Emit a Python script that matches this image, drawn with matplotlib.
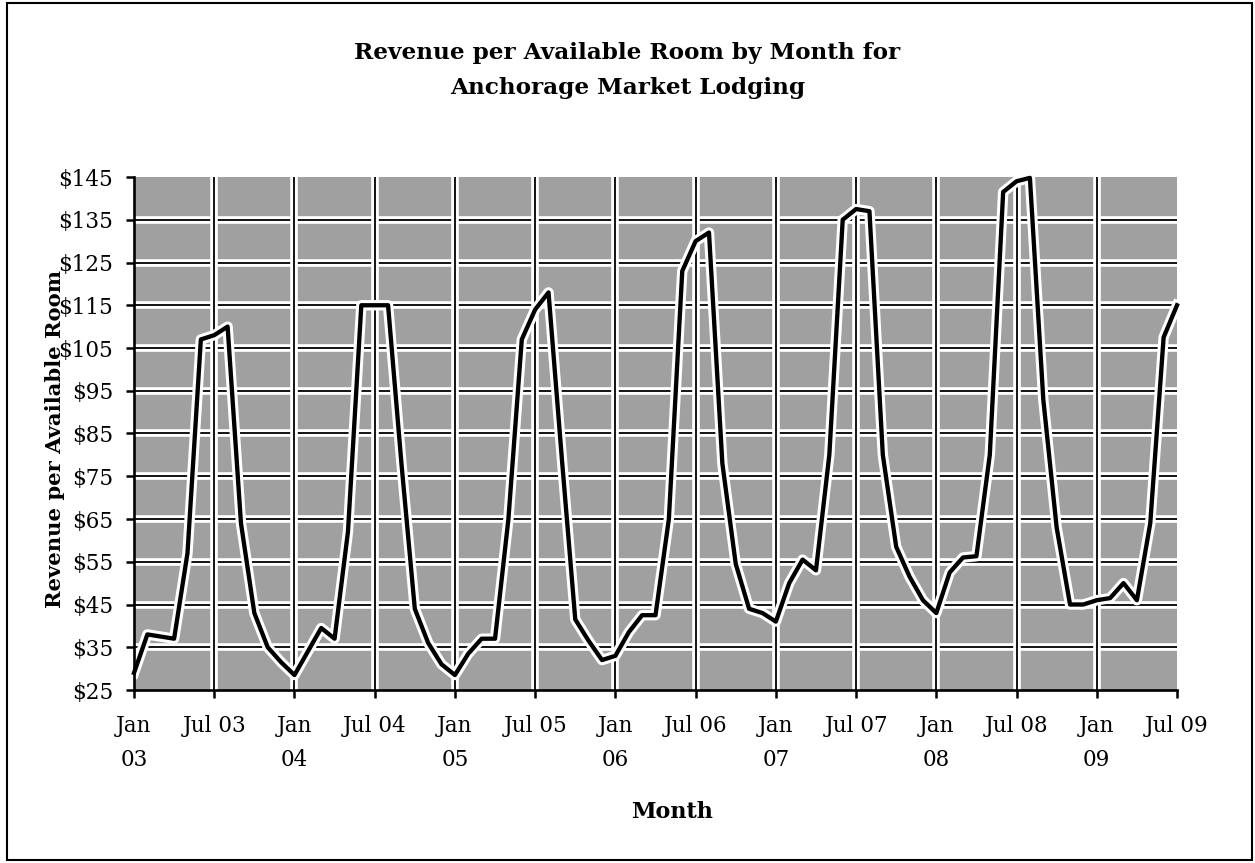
import matplotlib
matplotlib.use("Agg")
import matplotlib.pyplot as plt
import matplotlib.patheffects as pe
from matplotlib.patches import Rectangle

# -------------------------
# Monthly RevPAR, Anchorage market, Jan 2003 - Jul 2009
# -------------------------
revpar = [
    29, 38, 37.5, 37, 57, 107, 108, 110, 64, 43, 35, 31.5,        # 2003
    28.5, 34, 39.5, 37, 62, 115, 115, 115, 78, 44, 36, 31,        # 2004
    28.5, 33.5, 37, 37, 65, 107, 114, 118, 79, 41.5, 36.5, 32,    # 2005
    33, 38.5, 42.5, 42.5, 65, 123, 130, 132, 78, 54.5, 44, 43,    # 2006
    41, 50, 55.5, 53, 80, 135, 137.5, 137, 80, 58.5, 51.5, 46,    # 2007
    43, 52.5, 56, 56.3, 80, 141.5, 144, 144.8, 93, 63, 45, 45,    # 2008
    46, 46.5, 50, 46, 64, 107.5, 115,                             # 2009
]
months = list(range(len(revpar)))

tick_pos = list(range(0, len(revpar), 6))
tick_labels = ["Jan\n03", "Jul 03", "Jan\n04", "Jul 04", "Jan\n05", "Jul 05",
               "Jan\n06", "Jul 06", "Jan\n07", "Jul 07", "Jan\n08", "Jul 08",
               "Jan\n09", "Jul 09"]
y_ticks = list(range(25, 146, 10))
y_labels = ["$%d" % v for v in y_ticks]

plt.rcParams['font.family'] = ['DejaVu Serif']

# -------------------------
# Figure and axes
# -------------------------
W, H = 1255, 863
fig = plt.figure(figsize=(W / 100, H / 100), dpi=100)
ax = fig.add_axes([134 / W, 1 - 690 / H, (1177 - 134) / W, (690 - 177) / H])
ax.set_facecolor('#a0a0a0')
ax.set_xlim(0, 78)
ax.set_ylim(25, 145)

# grid with a white margin on both sides of each line
grid_fx = [pe.Stroke(linewidth=5.5, foreground='white'), pe.Normal()]
for y in y_ticks[1:-1]:
    ax.axhline(y, color='black', lw=1.3, path_effects=grid_fx, zorder=1)
for x in tick_pos[1:-1]:
    ax.axvline(x, color='black', lw=1.3, path_effects=grid_fx, zorder=1)

ax.plot(months, revpar, color='black', lw=3.1, zorder=2, clip_on=False,
        path_effects=[pe.Stroke(linewidth=7.5, foreground='white'), pe.Normal()])

for side in ['top', 'right']:
    ax.spines[side].set_visible(False)
for side in ['left', 'bottom']:
    ax.spines[side].set_linewidth(1.9)
    ax.spines[side].set_zorder(3)

ax.set_xticks(tick_pos)
ax.set_xticklabels(tick_labels)
ax.set_yticks(y_ticks)
ax.set_yticklabels(y_labels)
ax.tick_params(axis='both', direction='out', length=6, width=1.8,
               labelsize=15.5, color='black')
ax.tick_params(axis='x', pad=12)
ax.tick_params(axis='y', pad=9)
for lab in ax.get_xticklabels():
    lab.set_linespacing(1.7)

# -------------------------
# Titles and axis labels
# -------------------------
fig.text(0.5, 1 - 53 / H, "Revenue per Available Room by Month for",
         ha='center', va='center', fontsize=16.7, fontweight='bold')
fig.text(0.5, 1 - 88 / H, "Anchorage Market Lodging",
         ha='center', va='center', fontsize=16.7, fontweight='bold')
fig.text(55 / W, 1 - 439 / H, "Revenue per Available Room", rotation=90,
         ha='center', va='center', fontsize=15.2, fontweight='bold')
fig.text(672 / W, 1 - 812 / H, "Month",
         ha='center', va='center', fontsize=16, fontweight='bold')

# outer frame
fig.add_artist(Rectangle((7 / W, 3 / H), (1252 - 7) / W, (860 - 3) / H,
                         transform=fig.transFigure, fill=False,
                         edgecolor='black', lw=1.5))

fig.savefig("out.png", dpi=100)
